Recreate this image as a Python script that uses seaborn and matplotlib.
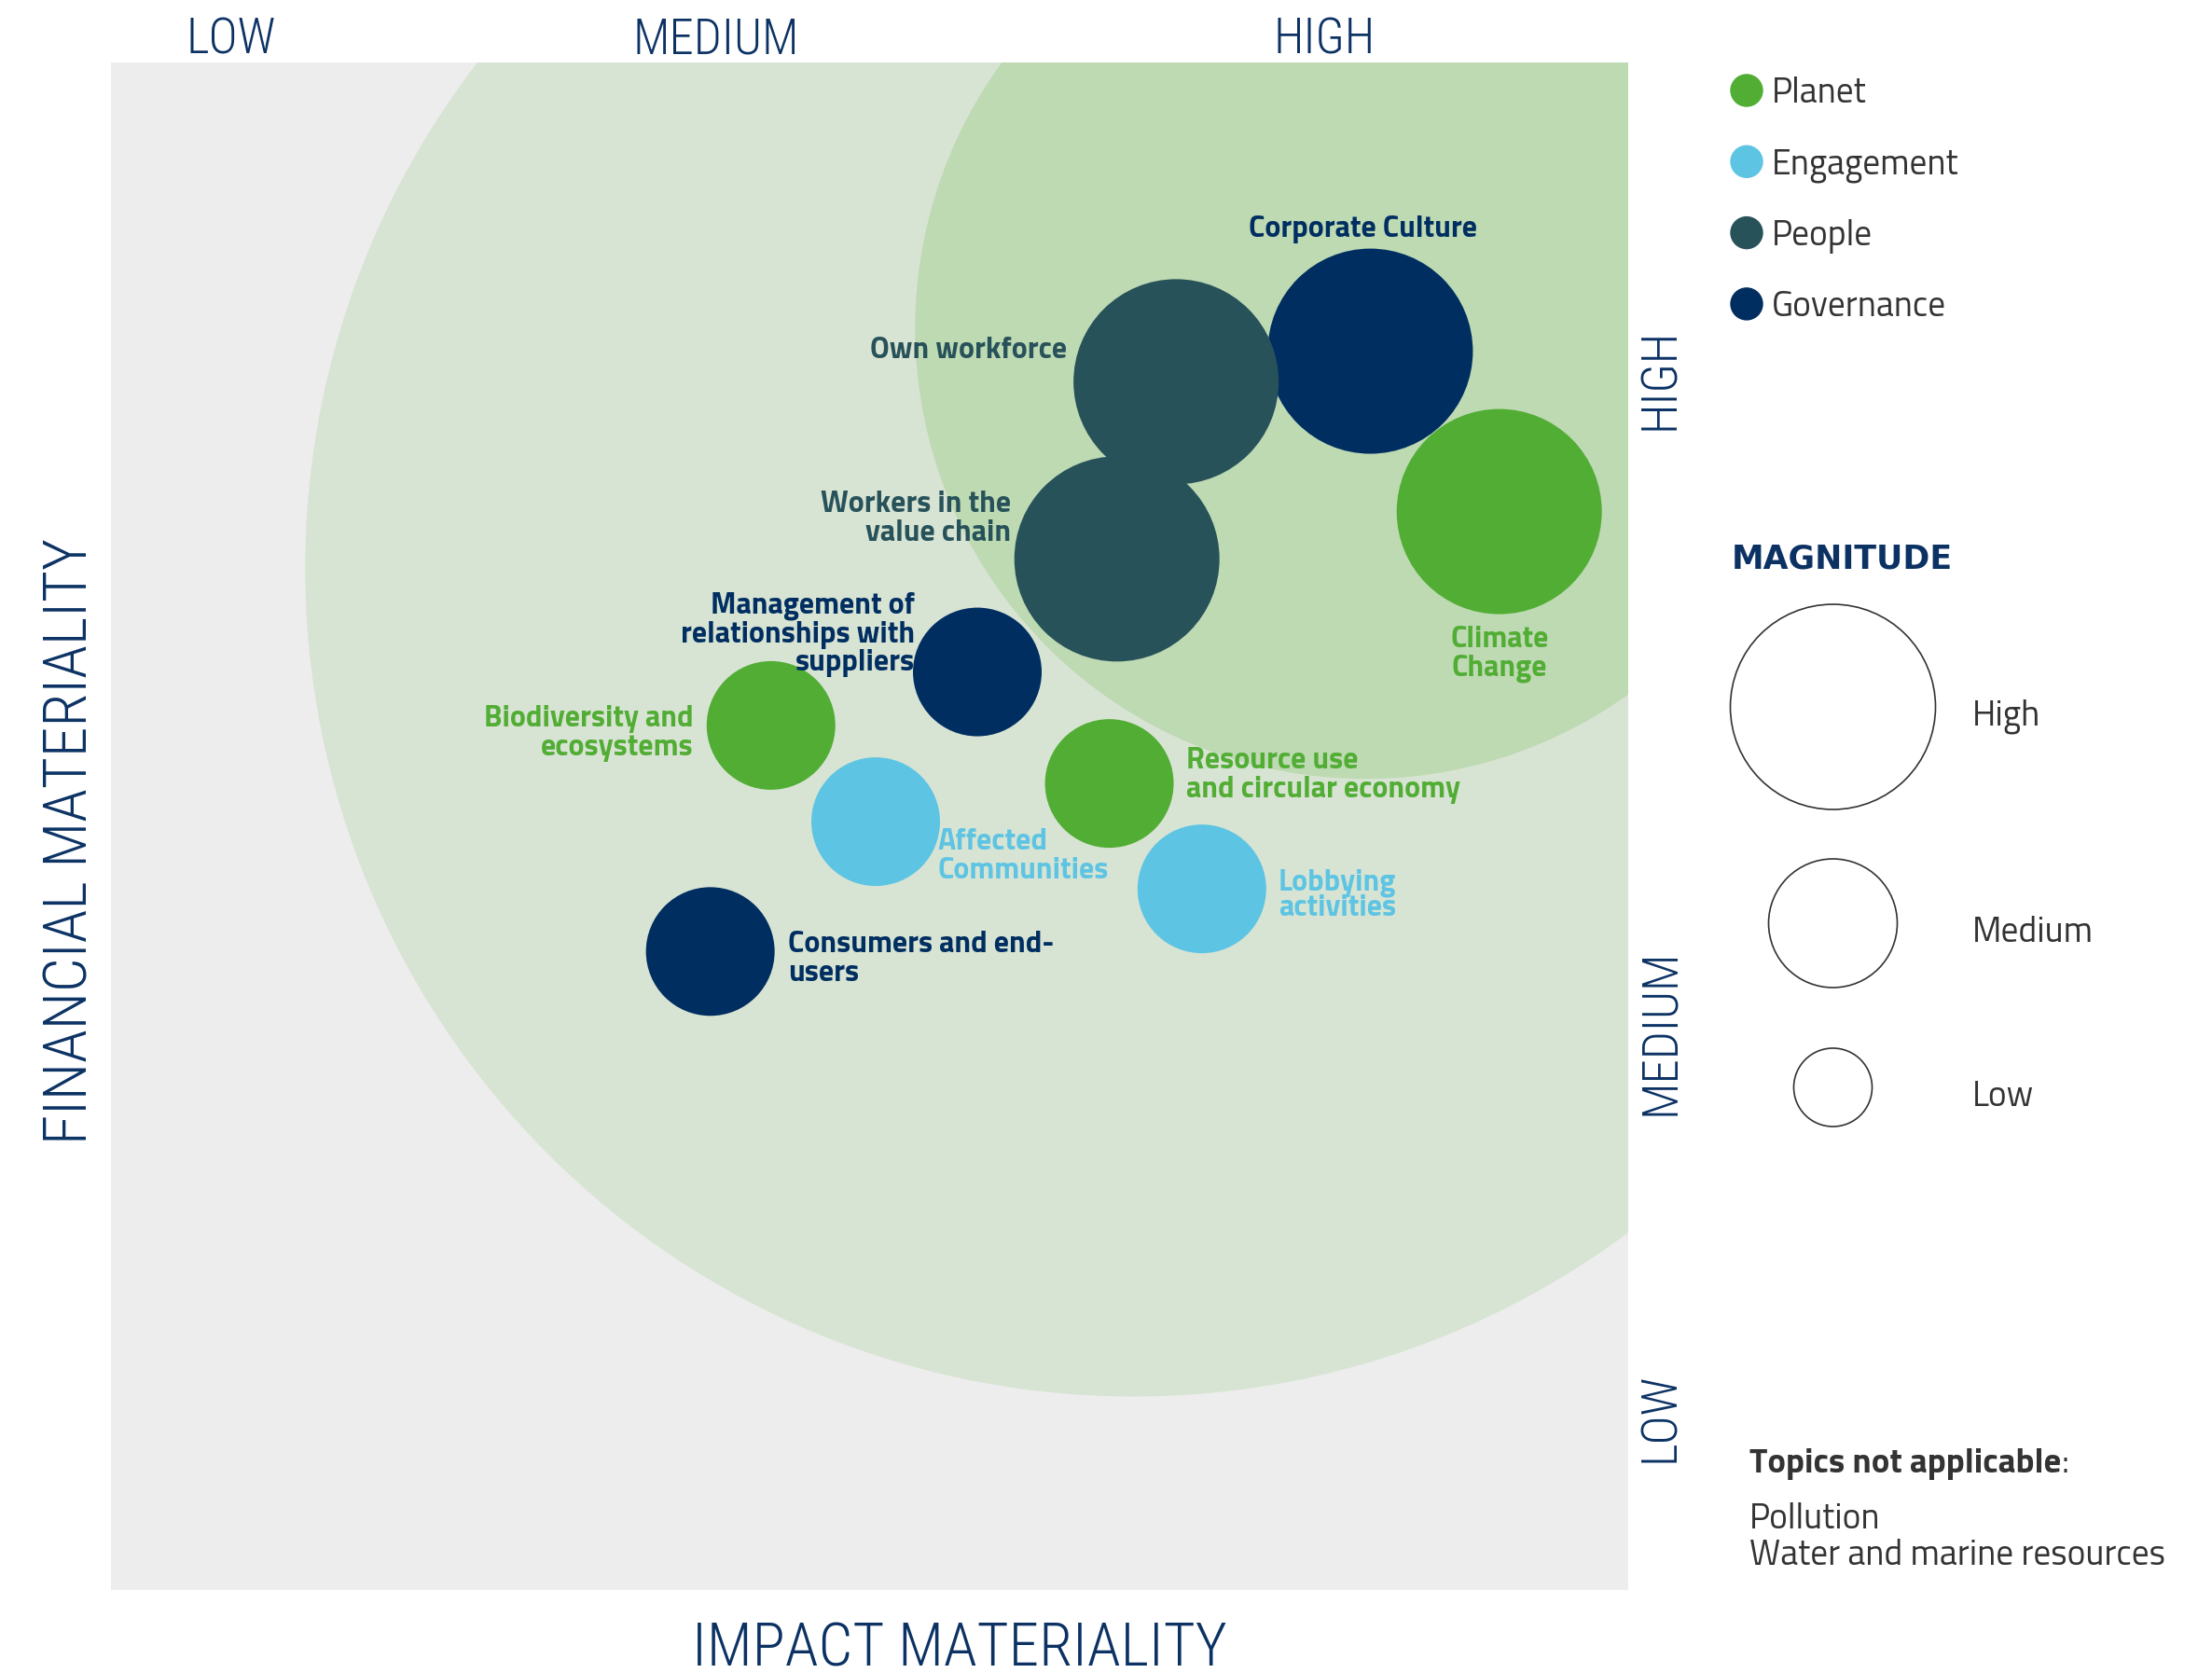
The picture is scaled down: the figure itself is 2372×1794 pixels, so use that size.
import matplotlib
matplotlib.use("Agg")
import matplotlib.pyplot as plt
from matplotlib.patches import Ellipse
from matplotlib import font_manager
import pandas as pd
import seaborn as sns

topics = [
    "Corporate Culture", "Own workforce", "Workers in the\nvalue chain",
    "Climate\nChange", "Management of\nrelationships with\nsuppliers",
    "Biodiversity and\necosystems", "Affected\nCommunities",
    "Resource use\nand circular economy", "Lobbying\nactivities",
    "Consumers and end-\nusers",
]
pillars = ["Governance", "People", "People", "Planet", "Governance",
           "Planet", "Engagement", "Planet", "Engagement", "Governance"]
impact = [83.0, 70.2, 66.3, 91.5, 57.1, 43.5, 50.4, 65.8, 71.9, 39.5]
financial = [81.1, 79.1, 67.5, 70.6, 60.1, 56.6, 50.3, 52.8, 45.9, 41.8]
magnitude = ["High", "High", "High", "High", "Medium",
             "Medium", "Medium", "Medium", "Medium", "Medium"]

pillar_order = ["Planet", "Engagement", "People", "Governance"]
magnitude_order = ["High", "Medium", "Low"]
level_labels = ["LOW", "MEDIUM", "HIGH"]
not_applicable = ["Pollution", "Water and marine resources"]

# ---- styling ----
W, H, DPI = 2372, 1794, 100
NAVY = "#0c3264"
GREY_TXT = "#333333"
PALETTE = {"Planet": "#52ad35", "Engagement": "#5ec4e3",
           "People": "#28525a", "Governance": "#002e61"}
SIZES = {"High": 25090, "Medium": 9870, "Low": 3660}

FAMILIES = {f.name for f in font_manager.fontManager.ttflist}


def pick(*names):
    for n in names:
        if n in FAMILIES:
            return n
    return "DejaVu Sans"


NARROW = pick("Roboto Condensed", "Liberation Sans Narrow", "Liberation Sans")
TITIL = pick("Titillium Web", "Roboto Condensed", "Lato")

# label placement relative to bubble centre (points), alignment, line spacing
LABEL_POS = {
    "Corporate Culture": (-6, 94, "center", 1.04),
    "Own workforce": (-84, 24, "right", 1.04),
    "Workers in the\nvalue chain": (-82, 31, "right", 1.04),
    "Climate\nChange": (0, -110, "center", 1.04),
    "Management of\nrelationships with\nsuppliers": (-48, 29, "right", 1.04),
    "Biodiversity and\necosystems": (-60, -6, "right", 1.04),
    "Affected\nCommunities": (48, -27, "left", 1.04),
    "Resource use\nand circular economy": (59, 6, "left", 1.04),
    "Lobbying\nactivities": (59, -5, "left", 0.88),
    "Consumers and end-\nusers": (60, -6, "left", 1.04),
}

sns.set_theme(style="white")
plt.rcParams["font.family"] = [TITIL, "DejaVu Sans"]

df = pd.DataFrame({"topic": topics, "pillar": pillars, "impact": impact,
                   "financial": financial, "magnitude": magnitude})

fig = plt.figure(figsize=(W / DPI, H / DPI), dpi=DPI)
L, R, T, B = 119, 1746, 67, 1705
ax = fig.add_axes([L / W, 1 - B / H, (R - L) / W, (B - T) / H])
ax.set_facecolor("#ededed")
ax.set_xlim(0, 100)
ax.set_ylim(0, 100)
for s in ax.spines.values():
    s.set_visible(False)

# materiality zones (medium / high)
ratio = (R - L) / (B - T)
for cx, cy, r, col in [(67.4, 66.9, 54.6, "#d8e4d3"), (82.7, 82.6, 29.7, "#bedab3")]:
    ax.add_patch(Ellipse((cx, cy), 2 * r, 2 * r * ratio, facecolor=col,
                         edgecolor="none", zorder=0))

sns.scatterplot(data=df, x="impact", y="financial", hue="pillar",
                palette=PALETTE, size="magnitude", sizes=SIZES,
                size_order=magnitude_order, linewidth=0, alpha=1,
                legend=False, ax=ax, zorder=3)

for _, row in df.iterrows():
    dx, dy, ha, ls = LABEL_POS[row.topic]
    ax.annotate(row.topic, (row.impact, row.financial), xytext=(dx, dy),
                textcoords="offset points", ha=ha, va="center",
                fontsize=23, fontweight="bold", family=TITIL,
                color=PALETTE[row.pillar], linespacing=ls, zorder=4)

# level labels as ticks on top and right
ax.xaxis.tick_top()
ax.set_xticks([7.9, 39.9, 80.0], level_labels)
ax.yaxis.tick_right()
ax.set_yticks([11.3, 36.5, 79.3], level_labels, rotation=90, va="center")
ax.tick_params(length=0, labelsize=38, labelcolor=NAVY)
ax.tick_params(axis="x", pad=-1)
ax.tick_params(axis="y", pad=6)
for lab in ax.get_xticklabels() + ax.get_yticklabels():
    lab.set_family(NARROW)
    lab.set_fontweight("light")

ax.xaxis.set_label_position("bottom")
ax.yaxis.set_label_position("left")
ax.set_xlabel("IMPACT MATERIALITY", fontsize=47, color=NAVY, family=NARROW,
              fontweight="light")
ax.set_ylabel("FINANCIAL MATERIALITY", fontsize=47, color=NAVY, family=NARROW,
              fontweight="light")
ax.xaxis.set_label_coords(0.559, -0.039)
ax.xaxis.label.set_va("center")
ax.yaxis.set_label_coords(-0.027, 0.49)
ax.yaxis.label.set_va("center")

# ---- right hand legends, in figure pixels ----
leg = fig.add_axes([0, 0, 1, 1], zorder=5)
leg.set_xlim(0, W)
leg.set_ylim(H, 0)
leg.axis("off")
leg.patch.set_alpha(0)

cat = pd.DataFrame({"pillar": pillar_order,
                    "x": [1873] * 4, "y": [97 + 76.3 * i for i in range(4)]})
sns.scatterplot(data=cat, x="x", y="y", hue="pillar", palette=PALETTE,
                s=650, linewidth=0, legend=False, ax=leg)
for _, row in cat.iterrows():
    leg.text(1900, row.y + 4, row.pillar, fontsize=27, color=GREY_TXT,
             va="center", ha="left")

leg.text(1857, 600, "MAGNITUDE", fontsize=25, fontweight="bold", color=NAVY,
         va="center", ha="left", family="DejaVu Sans")
mag = pd.DataFrame({"magnitude": magnitude_order, "x": [1965.5] * 3,
                    "y": [758, 990, 1166]})
sns.scatterplot(data=mag, x="x", y="y", size="magnitude", sizes=SIZES,
                size_order=magnitude_order, color="white",
                edgecolor="#333333", linewidth=1.2, legend=False, ax=leg)
for _, row in mag.iterrows():
    leg.text(2115, row.y + 10, row.magnitude, fontsize=27, color=GREY_TXT,
             va="center", ha="left")

t = leg.text(1876, 1570, "Topics not applicable", fontsize=26.5,
             fontweight="bold", color=GREY_TXT, va="center", ha="left")
leg.annotate(":", xy=(1, 0), xycoords=t, va="bottom", ha="left",
             fontsize=26.5, color=GREY_TXT)
leg.text(1876, 1649, "\n".join(not_applicable), fontsize=27,
         color=GREY_TXT, va="center", ha="left", linespacing=1.08)

leg.set_xlim(0, W)
leg.set_ylim(H, 0)

fig.savefig("out.png", dpi=DPI, facecolor="white")
